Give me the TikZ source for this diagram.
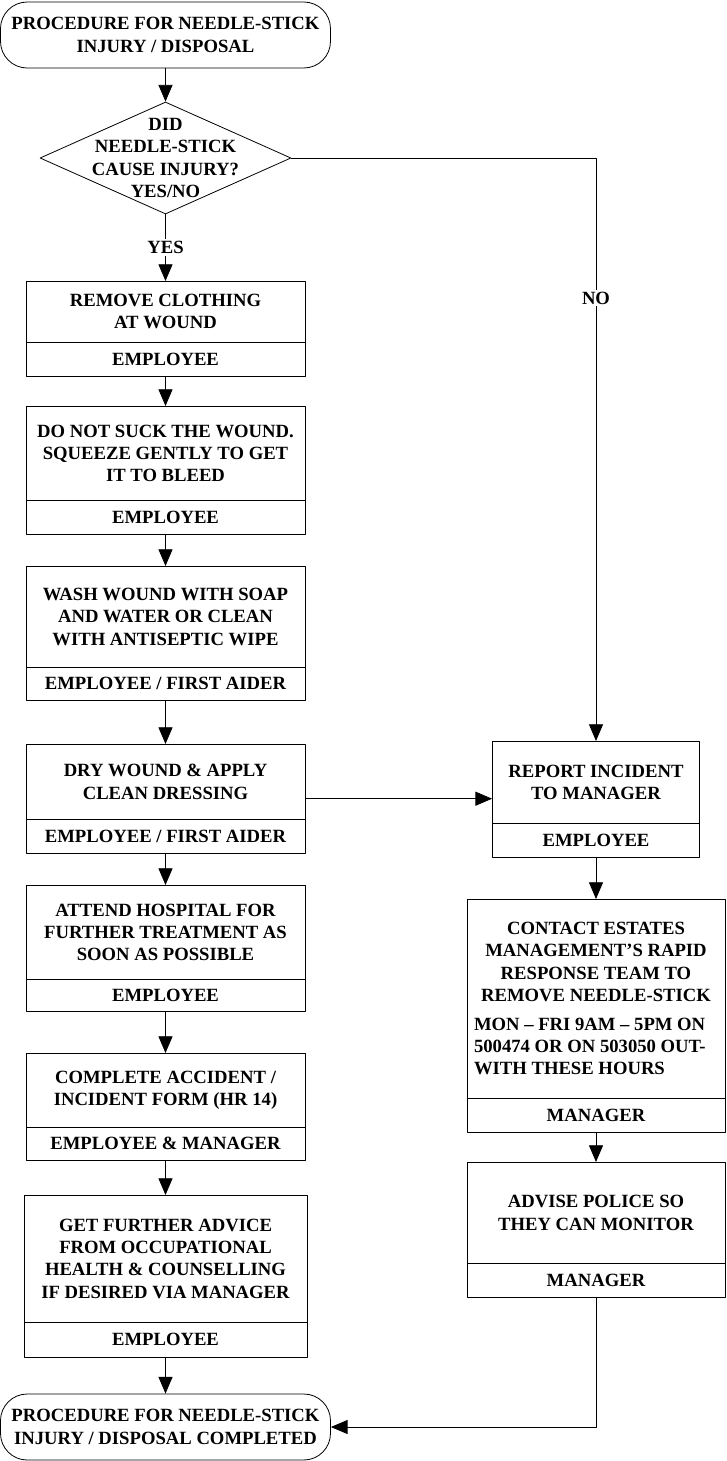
\documentclass[tikz,border=0pt]{standalone}
\usepackage{fontspec}
\setmainfont{Liberation Serif}
\usetikzlibrary{arrows.meta,shapes.geometric,shapes.multipart}
\newlength{\px}
\setlength{\px}{0.75pt}
\newcommand{\partcell}[3]{\parbox[c][#2\px]{#1\px}{\centering #3}}
\begin{document}
\begin{tikzpicture}[x=0.75pt,y=-0.75pt,>={Triangle[length=12.5pt,width=10.5pt]},line join=round,line width=.6pt,
	font=\fontsize{14}{16.7}\selectfont\bfseries,
	term/.style={draw,rectangle,rounded corners=20pt,minimum width=330\px,minimum height=66\px,inner sep=0pt,align=center},
	decision/.style={draw,diamond,minimum width=251\px,minimum height=112\px,inner sep=0pt},
	task/.style={draw,rectangle split,rectangle split parts=2,inner sep=0pt,anchor=north},
	lbl/.style={fill=white,inner sep=1.5pt}]
	\useasboundingbox (0,0) rectangle (726,1461);
	\node[term] (start) at (165.5,35) {PROCEDURE FOR NEEDLE-STICK\\INJURY / DISPOSAL};
	\node[decision] (decide) at (165.5,158) {};
	\node[align=center] (decidetext) at (decide) {DID\\NEEDLE-STICK\\CAUSE INJURY?\\YES/NO};
	% left column
	\node[task] (remove) at (165.5,281) {\partcell{279}{60}{REMOVE CLOTHING\\AT WOUND}\nodepart{two}\partcell{279}{33}{EMPLOYEE}};
	\node[task] (squeeze) at (165.5,406) {\partcell{279}{93}{DO NOT SUCK THE WOUND.\\SQUEEZE GENTLY TO GET\\IT TO BLEED}\nodepart{two}\partcell{279}{33}{EMPLOYEE}};
	\node[task] (wash) at (165.5,566) {\partcell{279}{100}{WASH WOUND WITH SOAP\\AND WATER OR CLEAN\\WITH ANTISEPTIC WIPE}\nodepart{two}\partcell{279}{32}{EMPLOYEE / FIRST AIDER}};
	\node[task] (dress) at (165.5,744) {\partcell{279}{74}{DRY WOUND \& APPLY\\CLEAN DRESSING}\nodepart{two}\partcell{279}{33}{EMPLOYEE / FIRST AIDER}};
	\node[task] (hospital) at (165.5,885) {\partcell{279}{93}{ATTEND HOSPITAL FOR\\FURTHER TREATMENT AS\\SOON AS POSSIBLE}\nodepart{two}\partcell{279}{31}{EMPLOYEE}};
	\node[task] (form) at (165.5,1053) {\partcell{279}{73}{COMPLETE ACCIDENT /\\INCIDENT FORM (HR 14)}\nodepart{two}\partcell{279}{32}{EMPLOYEE \& MANAGER}};
	\node[task] (advice) at (165.5,1195) {\partcell{283}{126}{GET FURTHER ADVICE\\FROM OCCUPATIONAL\\HEALTH \& COUNSELLING\\IF DESIRED VIA MANAGER}\nodepart{two}\partcell{283}{34}{EMPLOYEE}};
	\node[term] (finish) at (165.5,1427) {PROCEDURE FOR NEEDLE-STICK\\INJURY / DISPOSAL COMPLETED};
	% right column
	\node[task] (report) at (596,741) {\partcell{207}{81}{REPORT INCIDENT\\TO MANAGER}\nodepart{two}\partcell{207}{33}{EMPLOYEE}};
	\node[task] (contact) at (596,899) {\partcell{258}{198}{CONTACT ESTATES\\MANAGEMENT’S RAPID\\RESPONSE TEAM TO\\REMOVE NEEDLE-STICK\\[5pt]\parbox[t]{244\px}{\raggedright MON -- FRI 9AM -- 5PM ON\\500474 OR ON 503050 OUT-\\WITH THESE HOURS}}\nodepart{two}\partcell{258}{33}{MANAGER}};
	\node[task] (police) at (596,1162) {\partcell{258}{100}{ADVISE POLICE SO\\THEY CAN MONITOR}\nodepart{two}\partcell{258}{33}{MANAGER}};
	% connectors
	\draw[->] (start) -- (decide);
	\draw[->] (decide) -- node[lbl]{YES} (remove);
	\draw[->] (decide.east) -| node[lbl,pos=.62]{NO} (report.north);
	\draw[->] (remove) -- (squeeze);
	\draw[->] (squeeze) -- (wash);
	\draw[->] (wash) -- (dress);
	\draw[->] (dress) -- (hospital);
	\draw[->] (hospital) -- (form);
	\draw[->] (form) -- (advice);
	\draw[->] (advice) -- (finish);
	\draw[->] (dress.east) -- (dress.east -| report.west);
	\draw[->] (report) -- (contact);
	\draw[->] (contact) -- (police);
	\draw[->] (police.south) |- (finish.east);
\end{tikzpicture}
\end{document}
